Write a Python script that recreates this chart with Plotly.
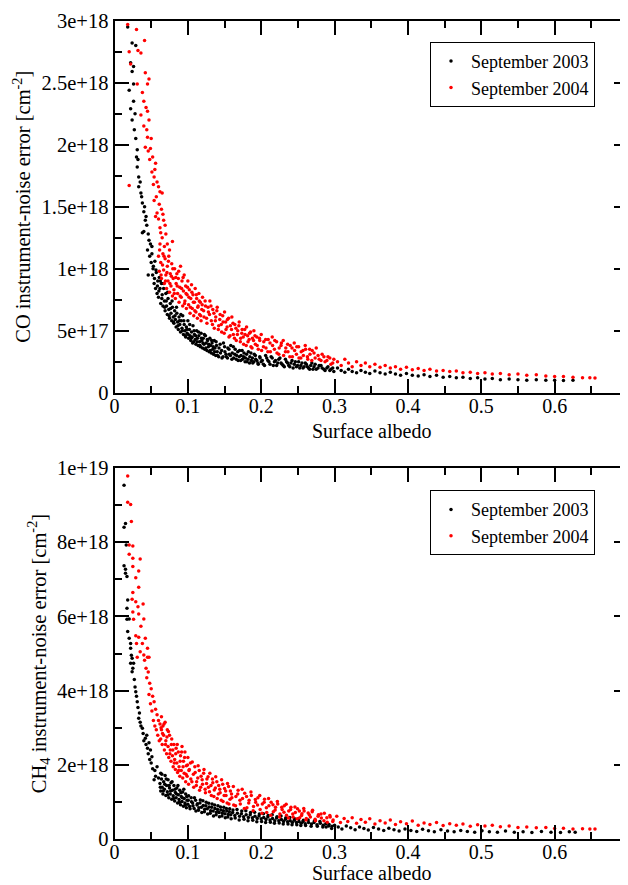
import plotly.graph_objects as go

# ---------------- data (albedo, error in units of 1e18 molec/cm^2) ----------------
co_2003 = [
    (0.018, 2.95), (0.024, 2.82), (0.029, 2.80), (0.022, 2.66), (0.026, 2.63), (0.024, 2.59), (0.026, 2.49),
    (0.020, 2.44), (0.026, 2.35), (0.022, 2.29), (0.024, 2.20), (0.027, 2.12), (0.029, 2.05), (0.031, 1.96),
    (0.030, 1.90), (0.031, 1.82), (0.033, 1.74), (0.033, 1.66), (0.036, 1.61), (0.038, 1.53), (0.040, 1.46),
    (0.042, 1.39), (0.038, 1.29), (0.047, 1.23), (0.051, 1.18), (0.028, 2.25), (0.032, 1.88), (0.035, 1.70),
    (0.037, 1.58), (0.041, 1.50), (0.043, 1.42), (0.040, 1.30), (0.044, 1.35), (0.046, 1.28), (0.045, 1.15),
    (0.049, 1.20), (0.048, 1.10), (0.046, 0.95), (0.050, 1.05),
    (0.051, 1.12), (0.052, 0.95), (0.053, 1.02), (0.054, 0.88), (0.055, 1.06), (0.056, 0.84),
    (0.057, 0.97), (0.058, 0.80), (0.059, 0.90), (0.060, 0.77), (0.061, 0.93), (0.062, 0.84),
    (0.063, 0.72), (0.064, 0.88), (0.065, 0.79), (0.066, 0.70), (0.067, 0.84), (0.068, 0.74),
    (0.069, 0.66), (0.070, 0.80), (0.071, 0.70), (0.072, 0.63), (0.073, 0.76), (0.074, 0.67),
    (0.075, 0.60), (0.076, 0.72), (0.077, 0.64), (0.078, 0.58), (0.079, 0.69), (0.080, 0.61),
    (0.081, 0.56), (0.082, 0.66), (0.083, 0.59), (0.084, 0.53), (0.085, 0.64), (0.086, 0.57),
    (0.087, 0.51), (0.088, 0.61), (0.089, 0.55), (0.090, 0.49), (0.091, 0.58), (0.092, 0.52), (0.093, 0.62),
    (0.094, 0.47), (0.095, 0.55), (0.096, 0.50), (0.097, 0.45), (0.098, 0.53), (0.099, 0.48), (0.100, 0.58),
    (0.101, 0.44), (0.102, 0.51), (0.103, 0.46), (0.104, 0.42), (0.105, 0.49), (0.106, 0.45), (0.107, 0.54),
    (0.108, 0.41), (0.109, 0.47), (0.110, 0.43),
    (0.111, 0.39), (0.112, 0.50), (0.113, 0.44), (0.114, 0.38), (0.115, 0.46), (0.116, 0.41), (0.117, 0.37),
    (0.118, 0.48), (0.119, 0.42), (0.120, 0.36),
    (0.121, 0.44), (0.122, 0.39), (0.123, 0.35), (0.124, 0.46), (0.125, 0.40), (0.126, 0.34), (0.127, 0.42),
    (0.128, 0.37), (0.129, 0.33), (0.130, 0.44),
    (0.131, 0.38), (0.132, 0.32), (0.133, 0.40), (0.134, 0.35), (0.135, 0.31), (0.136, 0.42), (0.137, 0.36),
    (0.138, 0.30), (0.139, 0.38), (0.140, 0.33),
    (0.142, 0.29), (0.144, 0.39), (0.146, 0.34), (0.148, 0.29), (0.150, 0.37), (0.152, 0.31), (0.154, 0.28),
    (0.156, 0.35), (0.158, 0.30), (0.160, 0.27),
    (0.162, 0.37), (0.164, 0.31), (0.166, 0.27), (0.168, 0.33), (0.170, 0.29), (0.172, 0.26), (0.174, 0.34),
    (0.176, 0.29), (0.178, 0.25), (0.180, 0.31),
    (0.182, 0.27), (0.184, 0.24), (0.186, 0.32), (0.188, 0.28), (0.190, 0.25), (0.192, 0.30), (0.194, 0.26),
    (0.196, 0.23), (0.198, 0.29), (0.200, 0.25),
    (0.203, 0.23), (0.206, 0.30), (0.209, 0.26), (0.212, 0.23), (0.215, 0.28), (0.218, 0.25), (0.221, 0.22),
    (0.224, 0.27), (0.227, 0.24), (0.230, 0.22),
    (0.233, 0.27), (0.236, 0.24), (0.239, 0.21), (0.242, 0.26), (0.245, 0.23), (0.248, 0.21), (0.251, 0.25),
    (0.254, 0.22), (0.257, 0.20), (0.260, 0.24),
    (0.263, 0.21), (0.266, 0.19), (0.269, 0.24), (0.272, 0.21), (0.275, 0.19), (0.279, 0.22), (0.283, 0.20),
    (0.287, 0.18), (0.291, 0.21), (0.295, 0.19), (0.299, 0.17),
    (0.304, 0.20), (0.309, 0.18), (0.314, 0.165), (0.319, 0.19), (0.324, 0.17), (0.330, 0.16), (0.336, 0.18),
    (0.342, 0.165), (0.348, 0.155), (0.355, 0.175), (0.362, 0.16), (0.369, 0.15), (0.376, 0.165), (0.383, 0.15),
    (0.390, 0.14), (0.398, 0.155), (0.406, 0.14), (0.414, 0.135), (0.422, 0.145), (0.430, 0.13), (0.439, 0.14),
    (0.448, 0.125), (0.457, 0.13), (0.466, 0.12), (0.475, 0.125), (0.485, 0.115), (0.495, 0.12), (0.505, 0.11),
    (0.515, 0.115), (0.526, 0.105), (0.538, 0.11), (0.550, 0.105), (0.562, 0.10), (0.575, 0.105), (0.588, 0.10),
    (0.600, 0.10), (0.612, 0.098), (0.625, 0.10),
]
co_2003_dense = [
    (0.0525, 1.00), (0.0545, 0.92), (0.0565, 0.99), (0.0585, 0.86), (0.0605, 0.82), (0.0625, 0.90), (0.0645, 0.76),
    (0.0665, 0.88), (0.0685, 0.69), (0.0705, 0.74), (0.0725, 0.81), (0.0745, 0.62), (0.0765, 0.68), (0.0785, 0.74),
    (0.0805, 0.57), (0.0825, 0.62), (0.0845, 0.69), (0.0865, 0.54), (0.0885, 0.58), (0.0905, 0.63), (0.0925, 0.50),
    (0.0945, 0.58), (0.0965, 0.46), (0.0985, 0.51), (0.1005, 0.47), (0.1025, 0.55), (0.1045, 0.44), (0.1065, 0.40),
    (0.1085, 0.50), (0.1105, 0.46), (0.1125, 0.41), (0.1145, 0.49), (0.1165, 0.38), (0.1185, 0.44), (0.1205, 0.40),
    (0.1225, 0.47), (0.1245, 0.36), (0.1265, 0.43), (0.1285, 0.39), (0.1305, 0.34), (0.1325, 0.42), (0.1345, 0.37),
    (0.1365, 0.33), (0.1385, 0.41), (0.1405, 0.30), (0.1425, 0.36), (0.1445, 0.32), (0.1465, 0.28), (0.1485, 0.40),
    (0.1505, 0.33), (0.1525, 0.29), (0.1545, 0.36), (0.1565, 0.31), (0.1585, 0.38), (0.1605, 0.32), (0.1625, 0.28),
    (0.1645, 0.35), (0.1665, 0.30), (0.1685, 0.26), (0.1705, 0.34), (0.1725, 0.30), (0.1745, 0.27), (0.1765, 0.32),
    (0.1785, 0.28), (0.1805, 0.25), (0.1825, 0.33), (0.1845, 0.29), (0.1865, 0.26), (0.1885, 0.24), (0.1905, 0.31),
    (0.1925, 0.27), (0.1955, 0.24), (0.1985, 0.28), (0.2015, 0.26), (0.2045, 0.22), (0.2075, 0.28), (0.2105, 0.25),
    (0.2135, 0.29), (0.2165, 0.22), (0.2195, 0.26), (0.2225, 0.24), (0.2255, 0.28), (0.2285, 0.23), (0.2315, 0.21),
    (0.2345, 0.25), (0.2375, 0.22), (0.2405, 0.24), (0.2435, 0.20), (0.2465, 0.25), (0.2495, 0.22), (0.2525, 0.20),
    (0.2555, 0.24), (0.2585, 0.21), (0.2615, 0.23), (0.2645, 0.20), (0.2675, 0.22), (0.2705, 0.19), (0.2735, 0.23),
    (0.2775, 0.20), (0.2815, 0.22), (0.2855, 0.19), (0.2895, 0.20), (0.2935, 0.18), (0.2975, 0.20),
]

co_2004 = [
    (0.018, 2.97), (0.030, 2.93), (0.041, 2.84), (0.020, 2.75), (0.032, 2.76), (0.036, 2.74), (0.022, 2.65),
    (0.042, 2.58), (0.047, 2.53), (0.045, 2.49), (0.031, 2.49), (0.040, 2.35), (0.045, 2.27), (0.036, 2.24),
    (0.040, 2.15), (0.045, 2.06), (0.049, 1.97), (0.042, 1.98), (0.056, 1.85), (0.020, 1.67), (0.054, 1.74),
    (0.060, 1.66), (0.065, 1.61), (0.054, 1.55), (0.058, 1.45), (0.067, 1.39), (0.063, 1.29), (0.079, 1.22),
    (0.038, 2.42), (0.043, 2.30), (0.047, 2.20), (0.044, 2.12), (0.050, 2.05), (0.046, 1.95), (0.052, 1.90),
    (0.048, 1.88), (0.055, 1.80), (0.051, 1.78), (0.058, 1.70), (0.053, 1.68), (0.062, 1.62), (0.057, 1.58),
    (0.061, 1.52), (0.064, 1.48), (0.056, 1.42), (0.060, 1.40), (0.066, 1.44), (0.069, 1.35), (0.062, 1.33),
    (0.065, 1.25), (0.070, 1.28), (0.072, 1.20), (0.068, 1.18), (0.075, 1.15),
    (0.060, 1.10), (0.061, 0.98), (0.062, 1.20), (0.063, 1.05), (0.064, 0.92), (0.066, 1.12), (0.067, 0.99),
    (0.068, 0.88), (0.069, 1.08), (0.070, 0.95),
    (0.071, 0.84), (0.072, 1.02), (0.073, 0.90), (0.074, 1.10), (0.075, 0.81), (0.076, 0.96), (0.077, 0.86),
    (0.078, 1.04), (0.079, 0.78), (0.080, 0.92),
    (0.081, 0.83), (0.082, 1.00), (0.083, 0.76), (0.084, 0.88), (0.085, 0.96), (0.086, 0.80), (0.087, 0.92),
    (0.088, 0.73), (0.089, 0.85), (0.090, 1.02),
    (0.091, 0.77), (0.092, 0.90), (0.093, 0.70), (0.094, 0.82), (0.095, 0.95), (0.096, 0.74), (0.097, 0.86),
    (0.098, 0.68), (0.099, 0.79), (0.100, 0.90),
    (0.101, 0.71), (0.102, 0.83), (0.103, 0.64), (0.104, 0.76), (0.105, 0.87), (0.106, 0.68), (0.107, 0.79),
    (0.108, 0.62), (0.109, 0.73), (0.110, 0.84),
    (0.111, 0.65), (0.112, 0.76), (0.113, 0.60), (0.114, 0.70), (0.115, 0.80), (0.116, 0.63), (0.117, 0.73),
    (0.118, 0.58), (0.119, 0.67), (0.120, 0.77),
    (0.122, 0.61), (0.124, 0.70), (0.126, 0.56), (0.128, 0.65), (0.130, 0.74), (0.132, 0.58), (0.134, 0.67),
    (0.136, 0.52), (0.138, 0.61), (0.140, 0.69),
    (0.142, 0.54), (0.144, 0.63), (0.146, 0.49), (0.148, 0.57), (0.150, 0.65), (0.152, 0.51), (0.154, 0.59),
    (0.156, 0.45), (0.158, 0.54), (0.160, 0.61),
    (0.162, 0.47), (0.164, 0.55), (0.166, 0.42), (0.168, 0.50), (0.170, 0.57), (0.172, 0.44), (0.174, 0.51),
    (0.176, 0.39), (0.178, 0.47), (0.180, 0.53),
    (0.182, 0.41), (0.184, 0.48), (0.186, 0.37), (0.188, 0.44), (0.190, 0.50), (0.192, 0.39), (0.194, 0.45),
    (0.196, 0.35), (0.198, 0.42), (0.200, 0.47),
    (0.203, 0.37), (0.206, 0.43), (0.209, 0.33), (0.212, 0.40), (0.215, 0.45), (0.218, 0.35), (0.221, 0.41),
    (0.224, 0.31), (0.227, 0.38), (0.230, 0.42),
    (0.233, 0.33), (0.236, 0.39), (0.239, 0.29), (0.242, 0.36), (0.245, 0.40), (0.248, 0.31), (0.251, 0.37),
    (0.254, 0.28), (0.257, 0.34), (0.260, 0.38),
    (0.263, 0.29), (0.266, 0.35), (0.269, 0.26), (0.272, 0.32), (0.275, 0.36), (0.279, 0.27), (0.283, 0.31),
    (0.287, 0.25), (0.291, 0.29), (0.295, 0.23), (0.299, 0.27),
    (0.304, 0.25), (0.309, 0.22), (0.314, 0.27), (0.319, 0.24), (0.324, 0.21), (0.330, 0.25), (0.336, 0.22),
    (0.342, 0.24), (0.348, 0.21), (0.355, 0.23), (0.362, 0.205), (0.369, 0.22), (0.376, 0.20), (0.383, 0.21),
    (0.390, 0.19), (0.398, 0.205), (0.406, 0.185), (0.414, 0.195), (0.422, 0.18), (0.430, 0.19), (0.439, 0.175),
    (0.448, 0.18), (0.457, 0.17), (0.466, 0.175), (0.475, 0.16), (0.485, 0.165), (0.495, 0.155), (0.505, 0.16),
    (0.515, 0.15), (0.526, 0.155), (0.538, 0.145), (0.550, 0.15), (0.562, 0.14), (0.575, 0.145), (0.588, 0.135),
    (0.600, 0.13), (0.612, 0.13), (0.625, 0.125), (0.638, 0.12), (0.648, 0.12), (0.655, 0.118),
]
co_2004_dense = [
    (0.0615, 1.15), (0.0635, 0.95), (0.0655, 1.03), (0.0675, 1.10), (0.0695, 0.90), (0.0715, 0.97), (0.0735, 1.06),
    (0.0755, 0.88), (0.0775, 0.94), (0.0795, 1.00), (0.0815, 0.80), (0.0835, 0.93), (0.0855, 0.86), (0.0875, 0.98),
    (0.0895, 0.78), (0.0915, 0.84), (0.0935, 0.93), (0.0955, 0.72), (0.0975, 0.80), (0.0995, 0.85), (0.1015, 0.77),
    (0.1035, 0.69), (0.1055, 0.81), (0.1075, 0.73), (0.1095, 0.66), (0.1115, 0.79), (0.1135, 0.69), (0.1155, 0.74),
    (0.1175, 0.62), (0.1195, 0.71), (0.1215, 0.66), (0.1235, 0.74), (0.1255, 0.60), (0.1275, 0.69), (0.1295, 0.63),
    (0.1315, 0.70), (0.1335, 0.55), (0.1355, 0.64), (0.1375, 0.58), (0.1395, 0.66), (0.1415, 0.51), (0.1435, 0.59),
    (0.1455, 0.55), (0.1475, 0.62), (0.1495, 0.48), (0.1515, 0.57), (0.1535, 0.53), (0.1555, 0.60), (0.1575, 0.46),
    (0.1595, 0.51), (0.1615, 0.56), (0.1635, 0.44), (0.1655, 0.52), (0.1675, 0.47), (0.1695, 0.54), (0.1715, 0.41),
    (0.1735, 0.48), (0.1755, 0.45), (0.1775, 0.51), (0.1795, 0.38), (0.1815, 0.46), (0.1835, 0.43), (0.1855, 0.49),
    (0.1875, 0.36), (0.1895, 0.42), (0.1915, 0.46), (0.1945, 0.38), (0.1975, 0.44), (0.2005, 0.34), (0.2035, 0.41),
    (0.2065, 0.36), (0.2095, 0.43), (0.2125, 0.33), (0.2155, 0.38), (0.2185, 0.42), (0.2215, 0.32), (0.2245, 0.36),
    (0.2275, 0.40), (0.2305, 0.30), (0.2335, 0.36), (0.2365, 0.33), (0.2395, 0.38), (0.2425, 0.29), (0.2455, 0.34),
    (0.2485, 0.37), (0.2515, 0.28), (0.2545, 0.33), (0.2575, 0.30), (0.2605, 0.35), (0.2635, 0.27), (0.2665, 0.31),
    (0.2695, 0.34), (0.2735, 0.28), (0.2775, 0.30), (0.2815, 0.26), (0.2855, 0.29), (0.2895, 0.26), (0.2935, 0.28),
    (0.2975, 0.24),
]

ch4_2003 = [
    (0.013, 9.53), (0.015, 8.50), (0.013, 8.40), (0.016, 7.92), (0.013, 7.36), (0.015, 7.27), (0.015, 7.16),
    (0.017, 7.07), (0.018, 6.44), (0.017, 6.22), (0.017, 5.92), (0.020, 5.93), (0.018, 5.59), (0.020, 5.41),
    (0.022, 5.27), (0.022, 5.14), (0.024, 4.87), (0.026, 4.74), (0.022, 4.74), (0.024, 4.51), (0.029, 3.97),
    (0.031, 3.70), (0.033, 3.26), (0.038, 2.99), (0.042, 2.72), (0.049, 2.40), (0.051, 2.22), (0.058, 1.95),
    (0.054, 1.60), (0.063, 1.78),
    (0.023, 4.95), (0.025, 4.60), (0.027, 4.30), (0.028, 4.10), (0.030, 3.85), (0.032, 3.55), (0.034, 3.40),
    (0.035, 3.15), (0.036, 3.05), (0.039, 2.85), (0.040, 2.65), (0.043, 2.55), (0.045, 2.45), (0.046, 2.30),
    (0.048, 2.15), (0.050, 2.05), (0.052, 1.90), (0.055, 1.85), (0.056, 1.70), (0.060, 1.65), (0.047, 2.60),
    (0.044, 2.80),
    (0.062, 1.50), (0.063, 1.30), (0.064, 1.62), (0.065, 1.40), (0.066, 1.22), (0.067, 1.55), (0.068, 1.35),
    (0.069, 1.72), (0.070, 1.18), (0.071, 1.45),
    (0.072, 1.28), (0.073, 1.60), (0.074, 1.12), (0.075, 1.38), (0.076, 1.22), (0.077, 1.52), (0.078, 1.08),
    (0.079, 1.32), (0.080, 1.17), (0.081, 1.45),
    (0.082, 1.03), (0.083, 1.26), (0.084, 1.12), (0.085, 1.38), (0.086, 0.98), (0.087, 1.20), (0.088, 1.07),
    (0.089, 1.32), (0.090, 0.93), (0.091, 1.15),
    (0.092, 1.02), (0.093, 1.27), (0.094, 0.89), (0.095, 1.10), (0.096, 0.98), (0.097, 1.22), (0.098, 0.85),
    (0.099, 1.05), (0.100, 0.94), (0.101, 1.17),
    (0.103, 0.82), (0.105, 1.01), (0.107, 0.90), (0.109, 1.12), (0.111, 0.76), (0.113, 0.96), (0.115, 0.85),
    (0.117, 1.06), (0.119, 0.72), (0.121, 0.91),
    (0.123, 0.81), (0.125, 1.00), (0.127, 0.68), (0.129, 0.87), (0.131, 0.77), (0.133, 0.95), (0.135, 0.63),
    (0.137, 0.83), (0.139, 0.73), (0.141, 0.90),
    (0.143, 0.61), (0.145, 0.79), (0.147, 0.70), (0.149, 0.86), (0.151, 0.58), (0.153, 0.76), (0.155, 0.67),
    (0.157, 0.82), (0.159, 0.55), (0.161, 0.72),
    (0.164, 0.64), (0.167, 0.80), (0.170, 0.52), (0.173, 0.69), (0.176, 0.61), (0.179, 0.77), (0.182, 0.50),
    (0.185, 0.66), (0.188, 0.58), (0.191, 0.73),
    (0.194, 0.47), (0.197, 0.63), (0.200, 0.55), (0.203, 0.69), (0.206, 0.45), (0.209, 0.60), (0.212, 0.52),
    (0.215, 0.66), (0.218, 0.43), (0.221, 0.57),
    (0.224, 0.50), (0.227, 0.63), (0.230, 0.41), (0.233, 0.54), (0.236, 0.47), (0.239, 0.59), (0.242, 0.39),
    (0.245, 0.51), (0.248, 0.45), (0.251, 0.55),
    (0.254, 0.37), (0.257, 0.48), (0.260, 0.42), (0.264, 0.52), (0.268, 0.35), (0.272, 0.45), (0.276, 0.39),
    (0.280, 0.48), (0.284, 0.33), (0.288, 0.42), (0.292, 0.36), (0.296, 0.29), (0.300, 0.38),
    (0.305, 0.33), (0.310, 0.28), (0.316, 0.36), (0.322, 0.31), (0.328, 0.26), (0.334, 0.33), (0.340, 0.29),
    (0.346, 0.25), (0.353, 0.32), (0.360, 0.28), (0.367, 0.24), (0.374, 0.30), (0.381, 0.26), (0.388, 0.22),
    (0.396, 0.28), (0.404, 0.24), (0.412, 0.21), (0.420, 0.27), (0.428, 0.23), (0.436, 0.20), (0.445, 0.26),
    (0.454, 0.22), (0.463, 0.20), (0.472, 0.24), (0.481, 0.21), (0.491, 0.19), (0.501, 0.23), (0.511, 0.20),
    (0.522, 0.19), (0.533, 0.22), (0.545, 0.19), (0.557, 0.20), (0.569, 0.18), (0.582, 0.21), (0.595, 0.19),
    (0.608, 0.185), (0.620, 0.20), (0.628, 0.19),
]
ch4_2003_dense = [
    (0.0625, 1.40), (0.0645, 1.75), (0.0665, 1.30), (0.0685, 1.48), (0.0705, 1.62), (0.0725, 1.20), (0.0745, 1.45),
    (0.0765, 1.30), (0.0785, 1.55), (0.0805, 1.10), (0.0825, 1.35), (0.0845, 1.22), (0.0865, 1.45), (0.0885, 1.00),
    (0.0905, 1.25), (0.0925, 1.12), (0.0945, 1.35), (0.0965, 0.92), (0.0985, 1.15), (0.1005, 1.05), (0.1025, 0.88),
    (0.1045, 1.12), (0.1065, 0.98), (0.1085, 0.83), (0.1105, 1.05), (0.1125, 0.92), (0.1145, 0.78), (0.1165, 0.98),
    (0.1185, 0.86), (0.1205, 1.04), (0.1225, 0.74), (0.1245, 0.90), (0.1265, 0.82), (0.1285, 0.97), (0.1305, 0.70),
    (0.1325, 0.86), (0.1345, 0.76), (0.1365, 0.92), (0.1385, 0.66), (0.1405, 0.80), (0.1425, 0.72), (0.1445, 0.87),
    (0.1465, 0.63), (0.1485, 0.77), (0.1505, 0.69), (0.1525, 0.83), (0.1545, 0.60), (0.1565, 0.74), (0.1585, 0.66),
    (0.1615, 0.79), (0.1645, 0.57), (0.1675, 0.70), (0.1705, 0.62), (0.1735, 0.76), (0.1765, 0.54), (0.1795, 0.66),
    (0.1825, 0.59), (0.1855, 0.72), (0.1885, 0.51), (0.1915, 0.62), (0.1945, 0.56), (0.1975, 0.68), (0.2005, 0.48),
    (0.2035, 0.59), (0.2065, 0.53), (0.2095, 0.64), (0.2125, 0.46), (0.2155, 0.56), (0.2185, 0.50), (0.2215, 0.61),
    (0.2245, 0.44), (0.2275, 0.53), (0.2305, 0.48), (0.2335, 0.58), (0.2365, 0.41), (0.2395, 0.50), (0.2425, 0.45),
    (0.2455, 0.55), (0.2485, 0.39), (0.2515, 0.48), (0.2545, 0.43), (0.2575, 0.51), (0.2605, 0.37), (0.2645, 0.45),
    (0.2685, 0.41), (0.2725, 0.49), (0.2765, 0.35), (0.2805, 0.43), (0.2845, 0.38), (0.2885, 0.33), (0.2925, 0.40),
    (0.2965, 0.35),
]

ch4_2004 = [
    (0.018, 9.78), (0.018, 9.07), (0.022, 9.01), (0.023, 8.55), (0.020, 7.92), (0.025, 7.89), (0.020, 7.67),
    (0.025, 7.56), (0.035, 7.54), (0.025, 7.34), (0.033, 7.22), (0.029, 7.04), (0.033, 6.78), (0.025, 6.64),
    (0.024, 6.46), (0.029, 6.39), (0.039, 6.33), (0.032, 6.26), (0.025, 6.12), (0.033, 6.06), (0.040, 5.93),
    (0.026, 5.92), (0.036, 5.73), (0.029, 5.48), (0.033, 5.44), (0.042, 5.41), (0.030, 5.27), (0.038, 5.27),
    (0.045, 5.14), (0.040, 4.96), (0.045, 4.90), (0.031, 4.90), (0.047, 4.90),
    (0.035, 5.05), (0.041, 4.82), (0.043, 4.60), (0.044, 4.35), (0.046, 4.50), (0.048, 4.20), (0.050, 4.05),
    (0.047, 3.90), (0.052, 3.85), (0.049, 3.65), (0.054, 3.70), (0.051, 3.45), (0.056, 3.50), (0.053, 3.20),
    (0.058, 3.35), (0.055, 3.05), (0.060, 3.20), (0.057, 2.95), (0.062, 3.10), (0.059, 2.80), (0.064, 2.95),
    (0.061, 2.65),
    (0.063, 2.70), (0.064, 3.30), (0.065, 2.55), (0.066, 3.05), (0.067, 2.80), (0.068, 2.40), (0.069, 3.15),
    (0.070, 2.65), (0.071, 2.30), (0.072, 2.95),
    (0.073, 2.50), (0.074, 2.20), (0.075, 2.80), (0.076, 2.40), (0.077, 2.10), (0.078, 2.70), (0.079, 2.25),
    (0.080, 1.95), (0.081, 2.55), (0.082, 2.15),
    (0.083, 1.88), (0.084, 2.45), (0.085, 2.05), (0.086, 1.80), (0.087, 2.35), (0.088, 1.95), (0.089, 1.70),
    (0.090, 2.25), (0.091, 1.85), (0.092, 2.50),
    (0.093, 1.65), (0.094, 2.10), (0.095, 1.78), (0.096, 2.35), (0.097, 1.55), (0.098, 1.98), (0.099, 1.70),
    (0.100, 2.20), (0.101, 1.48), (0.102, 1.88),
    (0.104, 1.62), (0.106, 2.08), (0.108, 1.40), (0.110, 1.80), (0.112, 1.55), (0.114, 1.98), (0.116, 1.32),
    (0.118, 1.70), (0.120, 1.48), (0.122, 1.88),
    (0.124, 1.25), (0.126, 1.62), (0.128, 1.40), (0.130, 1.78), (0.132, 1.18), (0.134, 1.52), (0.136, 1.33),
    (0.138, 1.68), (0.140, 1.10), (0.142, 1.45),
    (0.144, 1.25), (0.146, 1.60), (0.148, 1.02), (0.150, 1.37), (0.152, 1.18), (0.154, 1.50), (0.156, 0.95),
    (0.158, 1.30), (0.160, 1.12), (0.162, 1.42),
    (0.165, 0.90), (0.168, 1.22), (0.171, 1.05), (0.174, 1.35), (0.177, 0.83), (0.180, 1.15), (0.183, 0.98),
    (0.186, 1.27), (0.189, 0.77), (0.192, 1.07),
    (0.195, 0.92), (0.198, 1.18), (0.201, 0.70), (0.204, 1.00), (0.207, 0.85), (0.210, 1.10), (0.213, 0.65),
    (0.216, 0.93), (0.219, 0.79), (0.222, 1.02),
    (0.225, 0.60), (0.228, 0.86), (0.231, 0.73), (0.234, 0.94), (0.237, 0.57), (0.240, 0.80), (0.243, 0.68),
    (0.246, 0.87), (0.249, 0.55), (0.252, 0.76),
    (0.255, 0.64), (0.258, 0.83), (0.261, 0.52), (0.264, 0.71), (0.267, 0.60), (0.270, 0.78), (0.274, 0.50),
    (0.278, 0.66), (0.282, 0.57), (0.286, 0.70), (0.290, 0.46), (0.294, 0.60), (0.298, 0.52),
    (0.303, 0.62), (0.308, 0.45), (0.313, 0.56), (0.318, 0.48), (0.324, 0.58), (0.330, 0.43), (0.336, 0.53),
    (0.342, 0.46), (0.348, 0.55), (0.355, 0.41), (0.362, 0.50), (0.369, 0.44), (0.376, 0.52), (0.383, 0.40),
    (0.390, 0.47), (0.398, 0.42), (0.406, 0.49), (0.414, 0.38), (0.422, 0.44), (0.430, 0.40), (0.439, 0.45),
    (0.448, 0.37), (0.457, 0.42), (0.466, 0.38), (0.475, 0.41), (0.485, 0.35), (0.495, 0.39), (0.505, 0.36),
    (0.515, 0.38), (0.526, 0.34), (0.538, 0.36), (0.550, 0.32), (0.562, 0.33), (0.575, 0.31), (0.588, 0.32),
    (0.600, 0.29), (0.612, 0.30), (0.625, 0.28), (0.638, 0.285), (0.648, 0.28), (0.655, 0.275),
]
ch4_2004_dense = [
    (0.0635, 3.00), (0.0655, 2.85), (0.0675, 3.10), (0.0695, 2.55), (0.0715, 2.75), (0.0735, 2.90), (0.0755, 2.30),
    (0.0775, 2.55), (0.0795, 2.40), (0.0815, 2.05), (0.0835, 2.30), (0.0855, 2.55), (0.0875, 1.85), (0.0895, 2.10),
    (0.0915, 2.35), (0.0935, 1.95), (0.0955, 2.20), (0.0975, 1.75), (0.0995, 2.00), (0.1015, 1.85), (0.1035, 2.05),
    (0.1055, 1.55), (0.1075, 1.75), (0.1095, 1.95), (0.1115, 1.45), (0.1135, 1.65), (0.1155, 1.85), (0.1175, 1.40),
    (0.1195, 1.60), (0.1215, 1.78), (0.1235, 1.35), (0.1255, 1.50), (0.1275, 1.68), (0.1295, 1.28), (0.1315, 1.45),
    (0.1335, 1.62), (0.1355, 1.15), (0.1375, 1.38), (0.1395, 1.55), (0.1415, 1.22), (0.1435, 1.35), (0.1455, 1.05),
    (0.1475, 1.48), (0.1495, 1.18), (0.1515, 1.30), (0.1535, 0.98), (0.1555, 1.42), (0.1575, 1.08), (0.1595, 1.22),
    (0.1625, 0.92), (0.1655, 1.15), (0.1685, 1.32), (0.1715, 0.95), (0.1745, 1.10), (0.1775, 1.24), (0.1805, 0.85),
    (0.1835, 1.05), (0.1865, 1.18), (0.1895, 0.88), (0.1925, 1.00), (0.1955, 1.12), (0.1985, 0.80), (0.2015, 0.95),
    (0.2045, 1.08), (0.2075, 0.72), (0.2105, 0.90), (0.2135, 1.00), (0.2165, 0.74), (0.2195, 0.86), (0.2225, 0.95),
    (0.2255, 0.68), (0.2285, 0.80), (0.2315, 0.90), (0.2345, 0.65), (0.2375, 0.76), (0.2405, 0.86), (0.2435, 0.60),
    (0.2465, 0.72), (0.2495, 0.82), (0.2525, 0.58), (0.2555, 0.69), (0.2585, 0.76), (0.2615, 0.56), (0.2655, 0.66),
    (0.2695, 0.74), (0.2735, 0.54), (0.2775, 0.62), (0.2815, 0.68), (0.2855, 0.50), (0.2895, 0.58), (0.2935, 0.64),
    (0.2975, 0.48),
]

series_names = ["September 2003", "September 2004"]
series_colors = ["#000000", "#ff0000"]

x_title = "Surface albedo"
x_tickvals = [0, 0.1, 0.2, 0.3, 0.4, 0.5, 0.6]
x_ticktext = ["0", "0.1", "0.2", "0.3", "0.4", "0.5", "0.6"]
co_tickvals = [0, 0.5, 1.0, 1.5, 2.0, 2.5, 3.0]
co_ticktext = ["0", "5e+17", "1e+18", "1.5e+18", "2e+18", "2.5e+18", "3e+18"]
ch4_tickvals = [0, 2, 4, 6, 8, 10]
ch4_ticktext = ["0", "2e+18", "4e+18", "6e+18", "8e+18", "1e+19"]

FONT = "Liberation Serif"

fig = go.Figure()

panels = [
    (co_2003 + co_2003_dense, co_2004 + co_2004_dense, "x", "y", "legend"),
    (ch4_2003 + ch4_2003_dense, ch4_2004 + ch4_2004_dense, "x2", "y2", "legend2"),
]
for s03, s04, xa, ya, lg in panels:
    for pts, name, col in ((s03, series_names[0], series_colors[0]),
                           (s04, series_names[1], series_colors[1])):
        fig.add_trace(go.Scatter(
            x=[p[0] for p in pts], y=[p[1] for p in pts],
            mode="markers", name=name, xaxis=xa, yaxis=ya, legend=lg,
            marker=dict(color=col, size=3.5, line=dict(width=0)),
        ))

# The page body keeps an 8 px margin, so the figure is 8 px smaller on each side
OFF = 8
W, H = 628 - OFF, 885 - OFF
x_dom = [(114.5 - OFF) / W, 1.0]
top_dom = [1 - (392.7 - OFF) / H, 1 - (20.7 - OFF) / H]
bot_dom = [1 - (839.3 - OFF) / H, 1 - (467.7 - OFF) / H]

def xaxis(domain, anchor):
    return dict(
        domain=domain, anchor=anchor, range=[0, 0.7], automargin=False,
        tickmode="array", tickvals=x_tickvals, ticktext=x_ticktext,
        ticks="inside", ticklen=14, tickwidth=2, tickcolor="black",
        minor=dict(tickmode="linear", tick0=0, dtick=0.05, ticks="inside",
                   ticklen=7, tickwidth=1.5, tickcolor="black"),
        showline=True, linecolor="black", linewidth=2, mirror="ticks",
        showgrid=False, zeroline=False, ticklabelstandoff=-6,
        tickfont=dict(family=FONT, size=20, color="black"),
    )

def yaxis(domain, anchor, rng, tv, tt, mdt, title):
    return dict(
        domain=domain, anchor=anchor, range=rng, automargin=False,
        tickmode="array", tickvals=tv, ticktext=tt,
        ticks="inside", ticklen=14, tickwidth=2, tickcolor="black",
        minor=dict(tickmode="linear", tick0=0, dtick=mdt, ticks="inside",
                   ticklen=7, tickwidth=1.5, tickcolor="black"),
        showline=True, linecolor="black", linewidth=2, mirror="ticks",
        showgrid=False, zeroline=False,
        tickfont=dict(family=FONT, size=20.5, color="black"),
        title=dict(text=title, font=dict(family=FONT, size=20.5, color="black"), standoff=5),
    )

legend_style = dict(
    bgcolor="white", bordercolor="black", borderwidth=1,
    font=dict(family=FONT, size=18, color="black"),
    xanchor="right", yanchor="middle", tracegroupgap=0, itemsizing="trace",
)

x_mid = (x_dom[0] + x_dom[1]) / 2
x_title_ann = [
    dict(text=x_title, xref="paper", yref="paper", x=x_mid, y=1 - (431 - OFF) / H,
         xanchor="center", yanchor="middle", showarrow=False,
         font=dict(family=FONT, size=20, color="black")),
    dict(text=x_title, xref="paper", yref="paper", x=x_mid, y=1 - (873 - OFF) / H,
         xanchor="center", yanchor="middle", showarrow=False,
         font=dict(family=FONT, size=20, color="black")),
]

fig.update_layout(
    width=W, height=H, margin=dict(l=0, r=0, t=0, b=0),
    paper_bgcolor="white", plot_bgcolor="white",
    font=dict(family=FONT, color="black"),
    xaxis=xaxis(x_dom, "y"),
    yaxis=yaxis(top_dom, "x", [0, 3.0], co_tickvals, co_ticktext, 0.25,
                "CO instrument-noise error [cm<sup>-2</sup>]"),
    xaxis2=xaxis(x_dom, "y2"),
    yaxis2=yaxis(bot_dom, "x2", [0, 10], ch4_tickvals, ch4_ticktext, 1,
                 "CH<sub>4</sub> instrument-noise error [cm<sup>-2</sup>]"),
    legend=dict(x=(595 - OFF) / W, y=1 - (74.4 - OFF) / H, **legend_style),
    legend2=dict(x=(595 - OFF) / W, y=1 - (522.7 - OFF) / H, **legend_style),
    annotations=x_title_ann,
    showlegend=True,
)

fig.write_html("out.html")
